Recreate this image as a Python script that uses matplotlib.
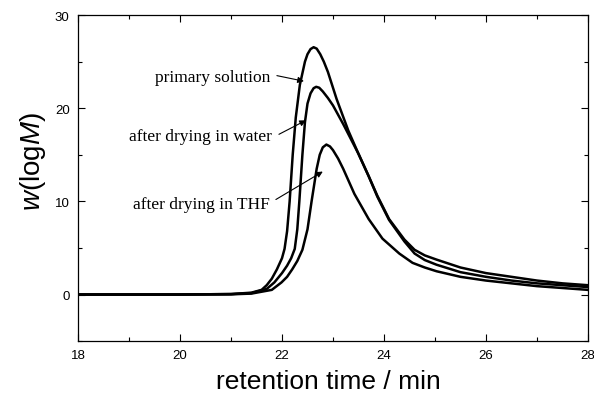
import matplotlib
matplotlib.use('Agg')
import matplotlib.pyplot as plt
from matplotlib.ticker import MultipleLocator

# retention time (min) and w(logM)
t_primary = [18.0, 19.0, 20.0, 21.0, 21.4, 21.6, 21.7, 21.8, 21.9, 22.0, 22.05, 22.1, 22.15,
             22.21, 22.27, 22.35, 22.45, 22.5, 22.56, 22.62, 22.68, 22.75, 22.82, 22.9, 23.07,
             23.3, 23.5, 23.7, 23.87, 24.1, 24.4, 24.6, 24.8, 25.03, 25.5, 26.0, 26.5,
             27.0, 27.5, 28.0]
w_primary = [0.0, 0.0, 0.0, 0.05, 0.2, 0.5, 1.0, 1.7, 2.7, 3.9, 4.9, 6.8, 10.0,
             15.0, 19.0, 22.5, 25.0, 25.8, 26.35, 26.55, 26.4, 25.8, 25.0, 23.9, 21.0,
             17.6, 15.1, 12.7, 10.6, 8.1, 5.9, 4.8, 4.2, 3.75, 2.9, 2.3, 1.9,
             1.5, 1.2, 1.0]

t_water = [18.0, 19.0, 20.0, 21.0, 21.4, 21.7, 21.85, 22.0, 22.1, 22.18, 22.25, 22.3, 22.34,
           22.4, 22.45, 22.5, 22.56, 22.62, 22.67, 22.73, 22.8, 22.9, 23.0, 23.2, 23.5,
           23.7, 23.87, 24.1, 24.4, 24.6, 24.8, 25.03, 25.5, 26.0, 26.5, 27.0, 27.5, 28.0]
w_water = [0.0, 0.0, 0.0, 0.05, 0.15, 0.6, 1.3, 2.3, 3.1, 3.9, 4.9, 7.0, 10.0,
           15.0, 18.5, 20.5, 21.6, 22.15, 22.3, 22.2, 21.8, 21.1, 20.3, 18.3, 15.1,
           12.7, 10.5, 8.0, 5.7, 4.4, 3.7, 3.2, 2.4, 1.9, 1.5, 1.2, 1.0, 0.8]

t_thf = [18.0, 19.0, 20.0, 21.0, 21.4, 21.8, 21.99, 22.1, 22.2, 22.3, 22.4, 22.5, 22.58,
         22.68, 22.74, 22.8, 22.87, 22.94, 23.0, 23.1, 23.2, 23.42, 23.7, 23.97, 24.3,
         24.56, 24.8, 25.03, 25.5, 26.0, 26.5, 27.0, 27.5, 28.0]
w_thf = [0.0, 0.0, 0.0, 0.02, 0.1, 0.5, 1.3, 1.9, 2.7, 3.6, 4.8, 7.0, 10.0,
         13.5, 15.0, 15.8, 16.1, 15.9, 15.5, 14.6, 13.5, 10.8, 8.1, 6.0, 4.4,
         3.4, 2.9, 2.5, 1.9, 1.5, 1.2, 0.9, 0.7, 0.5]

labels = ['primary solution', 'after drying in water', 'after drying in THF']

plt.rcParams['mathtext.fontset'] = 'custom'
plt.rcParams['mathtext.it'] = 'Liberation Sans:italic'
plt.rcParams['mathtext.rm'] = 'Liberation Sans'

fig = plt.figure(figsize=(5.94, 4.02), dpi=100)
ax = fig.add_axes([0.1313, 0.149, 0.8586, 0.811])

for t, w in [(t_primary, w_primary), (t_water, w_water), (t_thf, w_thf)]:
    ax.plot(t, w, color='black', lw=1.8, solid_joinstyle='round')

ax.set_xlim(18, 28)
ax.set_ylim(-5, 30)
ax.xaxis.set_major_locator(MultipleLocator(2))
ax.xaxis.set_minor_locator(MultipleLocator(1))
ax.yaxis.set_major_locator(MultipleLocator(10))
ax.yaxis.set_minor_locator(MultipleLocator(5))
ax.tick_params(which='both', direction='in', top=True, right=True,
               labelsize=9.5, width=0.8)
ax.tick_params(which='major', length=5, pad=6)
ax.tick_params(which='minor', length=3)
for lab in ax.get_xticklabels() + ax.get_yticklabels():
    lab.set_family('Liberation Sans')
for s in ax.spines.values():
    s.set_linewidth(0.9)

ax.set_xlabel('retention time / min', family='Liberation Sans', fontsize=19)
ax.set_ylabel(r'$w$(log$M$)', family='Liberation Sans', fontsize=20)
ax.xaxis.set_label_coords(0.49, -0.085)
ax.yaxis.set_label_coords(-0.058, 0.555)

# arrow labels: right end of text, arrow tail and tip (data coords)
text_pos = [(21.78, 23.3), (21.8, 17.0), (21.76, 9.7)]
tails = [(21.9, 23.5), (21.94, 17.2), (21.88, 10.2)]
tips = [(22.43, 22.9), (22.47, 18.7), (22.80, 13.2)]
for lab, tp, tip, tail in zip(labels, text_pos, tips, tails):
    ax.text(tp[0], tp[1], lab, family='Liberation Serif', fontsize=12.5,
            ha='right', va='center')
    ax.annotate('', xy=tip, xytext=tail,
                arrowprops=dict(arrowstyle='-|>', lw=0.8, color='black',
                                mutation_scale=9, shrinkA=0, shrinkB=0))

fig.savefig('out.png', dpi=100)
